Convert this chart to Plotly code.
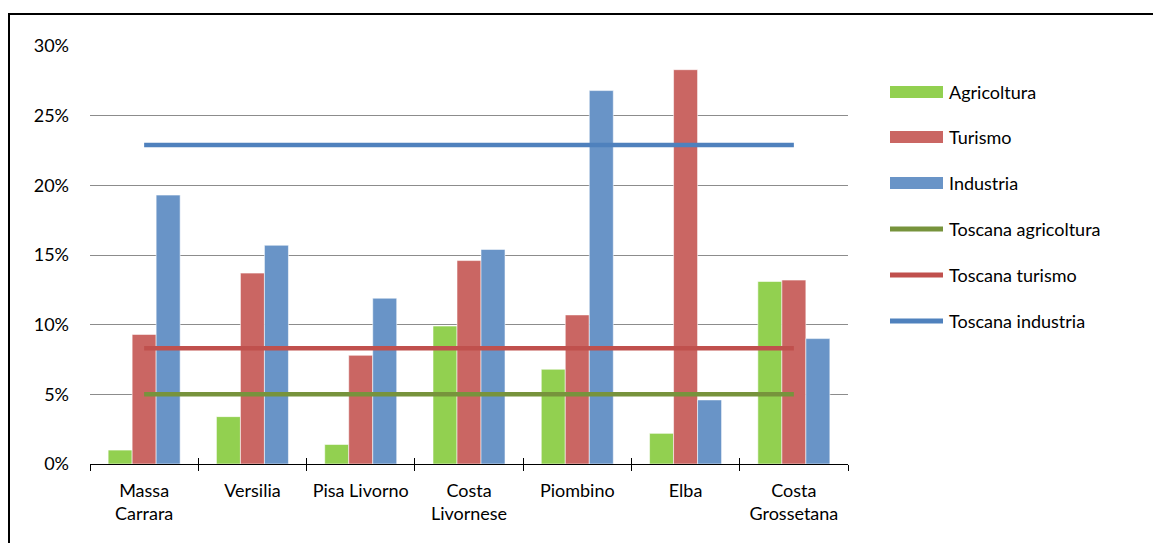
import plotly.graph_objects as go

# Zones and the share (%) of each sector
categories = ["Massa<br>Carrara", "Versilia", "Pisa Livorno", "Costa<br>Livornese",
              "Piombino", "Elba", "Costa<br>Grossetana"]
agricoltura = [1.0, 3.4, 1.4, 9.9, 6.8, 2.2, 13.1]
turismo = [9.3, 13.7, 7.8, 14.6, 10.7, 28.3, 13.2]
industria = [19.3, 15.7, 11.9, 15.4, 26.8, 4.6, 9.0]

# Regional reference values (%)
toscana_agricoltura = 5.0
toscana_turismo = 8.3
toscana_industria = 22.9

bar_names = ["Agricoltura", "Turismo", "Industria"]
line_names = ["Toscana agricoltura", "Toscana turismo", "Toscana industria"]
bar_colors = ["#92D050", "#CA6663", "#6994C7"]
line_colors = ["#77933C", "#C0504D", "#4F81BD"]

W, H = 1153, 543
L, R, T, B = 90, 848, 46, 464          # plot area in pixels
FONT = "Lato"
FS = 18


def px(x):
    return (x - L) / (R - L)


def py(y):
    return (B - y) / (B - T)


fig = go.Figure()

for name, vals, col in zip(bar_names, [agricoltura, turismo, industria], bar_colors):
    fig.add_trace(go.Bar(
        x=categories, y=vals, name=name,
        marker=dict(color=col, line=dict(color="rgba(255,255,255,0.55)", width=1)),
        showlegend=False, hoverinfo="x+y+name",
    ))

for name, val, col in zip(line_names,
                          [toscana_agricoltura, toscana_turismo, toscana_industria],
                          line_colors):
    fig.add_trace(go.Scatter(
        x=categories, y=[val] * len(categories), name=name, mode="lines",
        line=dict(color=col, width=4.5), xaxis="x2", yaxis="y",
        showlegend=False,
    ))

axis_common = dict(
    type="category", categoryorder="array", categoryarray=categories,
    range=[-0.5, len(categories) - 0.5], tickson="boundaries",
    ticklen=6, tickcolor="#000000", tickwidth=1,
)

fig.update_layout(
    width=W, height=H,
    margin=dict(l=L, r=W - R, t=T, b=H - B, pad=0),
    paper_bgcolor="white", plot_bgcolor="white",
    font=dict(family=FONT, size=FS, color="#000000"),
    barmode="group", bargap=0.335, bargroupgap=0,
    xaxis=dict(**axis_common, ticks="outside", showline=True, linecolor="#000000",
               linewidth=1, showgrid=False, ticklabelstandoff=10,
               tickfont=dict(family=FONT, size=FS)),
    xaxis2=dict(**axis_common, ticks="inside", overlaying="x", anchor="y",
                side="bottom", showticklabels=False, showline=False, showgrid=False),
    yaxis=dict(range=[0, 30], dtick=5, ticksuffix="%", showgrid=True,
               gridcolor="#8C8C8C", gridwidth=1, zeroline=False, showline=False,
               ticks="", ticklabelstandoff=20, tickfont=dict(family=FONT, size=FS)),
    showlegend=False,
)

shapes = [
    # outer frame of the chart
    dict(type="rect", xref="paper", yref="paper",
         x0=px(9), x1=px(W + 10), y0=py(H + 10), y1=py(14),
         line=dict(color="#000000", width=2), fillcolor="rgba(0,0,0,0)", layer="above"),
]
annotations = []

legend_y = [92, 137, 183, 229, 275, 321]
sym_x0, sym_x1, text_x = 890, 943, 947

for i, (name, col) in enumerate(zip(bar_names, bar_colors)):
    yc = legend_y[i]
    shapes.append(dict(type="rect", xref="paper", yref="paper",
                       x0=px(sym_x0), x1=px(sym_x1), y0=py(yc + 6), y1=py(yc - 6),
                       fillcolor=col, line=dict(width=0)))
for j, (name, col) in enumerate(zip(line_names, line_colors)):
    yc = legend_y[3 + j]
    shapes.append(dict(type="line", xref="paper", yref="paper",
                       x0=px(sym_x0), x1=px(sym_x1), y0=py(yc), y1=py(yc),
                       line=dict(color=col, width=5)))

for i, name in enumerate(bar_names + line_names):
    annotations.append(dict(xref="paper", yref="paper", x=px(text_x), y=py(legend_y[i]),
                            xanchor="left", yanchor="middle", text=name, showarrow=False,
                            font=dict(family=FONT, size=FS, color="#000000")))

fig.update_layout(shapes=shapes, annotations=annotations)

fig.write_html("out.html")
